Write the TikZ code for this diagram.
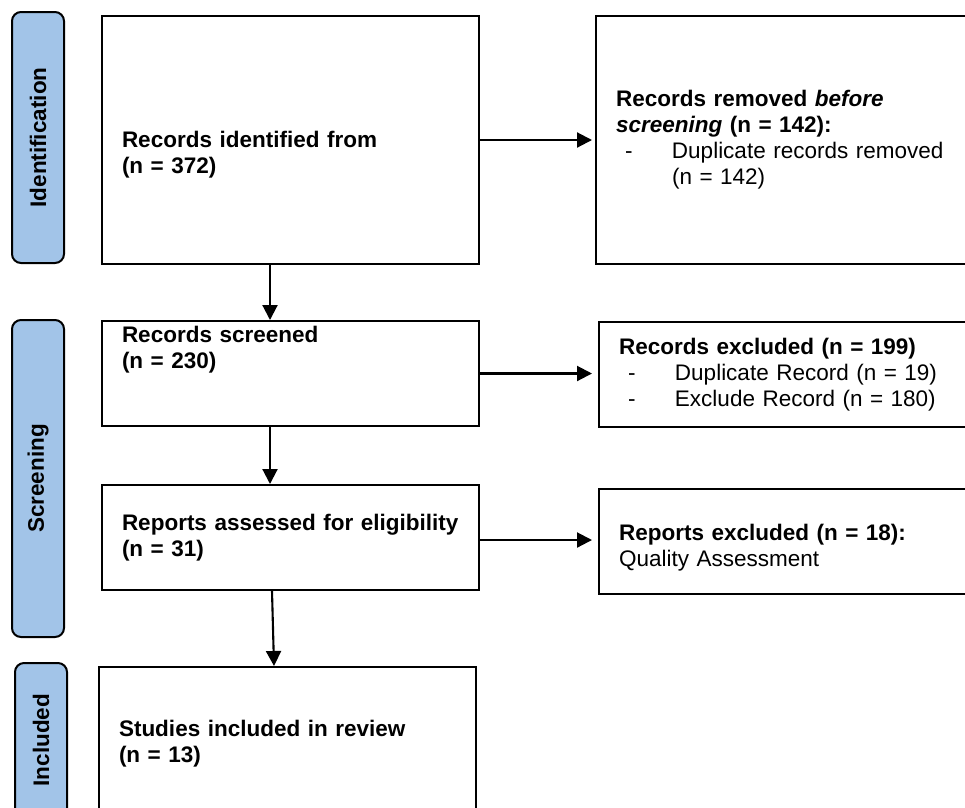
\documentclass[tikz,border=0pt]{standalone}
\usepackage{fontspec}
\setmainfont{Liberation Sans}
\usetikzlibrary{arrows.meta}

\definecolor{phasefill}{RGB}{162,196,232}
\newcommand{\dashitem}[1]{\makebox[56pt][l]{\hspace{9pt}-}#1}

\begin{document}
\begin{tikzpicture}[x=1pt, y=-1pt,
    box/.style={draw, line width=2pt, rectangle, text width=337pt, inner xsep=20pt, inner ysep=0pt, align=left, font=\fontsize{22.5}{26}\selectfont},
    boldbox/.style={box, font=\fontsize{22.5}{26}\selectfont\bfseries},
    phase/.style={draw, line width=2pt, rounded corners=9pt, fill=phasefill, rotate=90, minimum height=52pt, inner sep=0pt, font=\fontsize{22.5}{26}\selectfont\bfseries},
    flow/.style={-{Triangle[length=15pt,width=15pt]}, line width=2.1pt}]
    \clip (0,0) rectangle (965,807);

    % phases
    \node[phase, minimum width=251pt] (idbar) at (38,137.5) {Identification};
    \node[phase, minimum width=317pt] (scbar) at (38,478.5) {Screening};
    \node[phase, minimum width=154pt] (inbar) at (41,740) {Included};

    % main column
    \node[boldbox, minimum height=248pt] (ident) at (290.5,140) {\rule{0pt}{46pt}Records identified from\\(n = 372)};
    \node[boldbox, minimum height=105pt] (scr) at (290.5,373.5) {Records screened\\(n = 230)\\\mbox{}\\\mbox{}};
    \node[boldbox, minimum height=105pt] (elig) at (290.5,537.5) {Reports assessed for eligibility\\(n = 31)};
    \node[boldbox, minimum height=150pt] (incl) at (287.5,742) {\rule{0pt}{20pt}Studies included in review\\(n = 13)};

    % exclusions
    \node[box, minimum height=248pt] (removed) at (784.5,140) {\textbf{Records removed \textit{before}}\\\textbf{\textit{screening} (n = 142):}\\\dashitem{Duplicate records removed}\\\hspace*{56pt}(n = 142)};
    \node[box, minimum height=105pt] (excl) at (787.5,374.5) {\textbf{Records excluded (n = 199)}\\\dashitem{Duplicate Record (n = 19)}\\\dashitem{Exclude Record (n = 180)}};
    \node[box, minimum height=105pt] (rexcl) at (787.5,541.5) {\rule{0pt}{28pt}\textbf{Reports excluded (n = 18):}\\Quality Assessment};

    \draw[flow, shorten >=3pt] (ident.east) -- (ident.east -| removed.west);
    \draw[flow, shorten >=6pt] (scr.east) -- (scr.east -| excl.west);
    \draw[flow, shorten >=6pt] ([yshift=-2.5pt]elig.east) -- ([yshift=-2.5pt]elig.east -| rexcl.west);

    \draw[flow] ([xshift=-20.5pt]ident.south) -- ([xshift=-20.5pt]scr.north);
    \draw[flow] ([xshift=-20.5pt]scr.south) -- ([xshift=-20.5pt]elig.north);
    \draw[flow] ([xshift=-18.5pt]elig.south) -- ([xshift=-13.5pt]incl.north);
\end{tikzpicture}
\end{document}
